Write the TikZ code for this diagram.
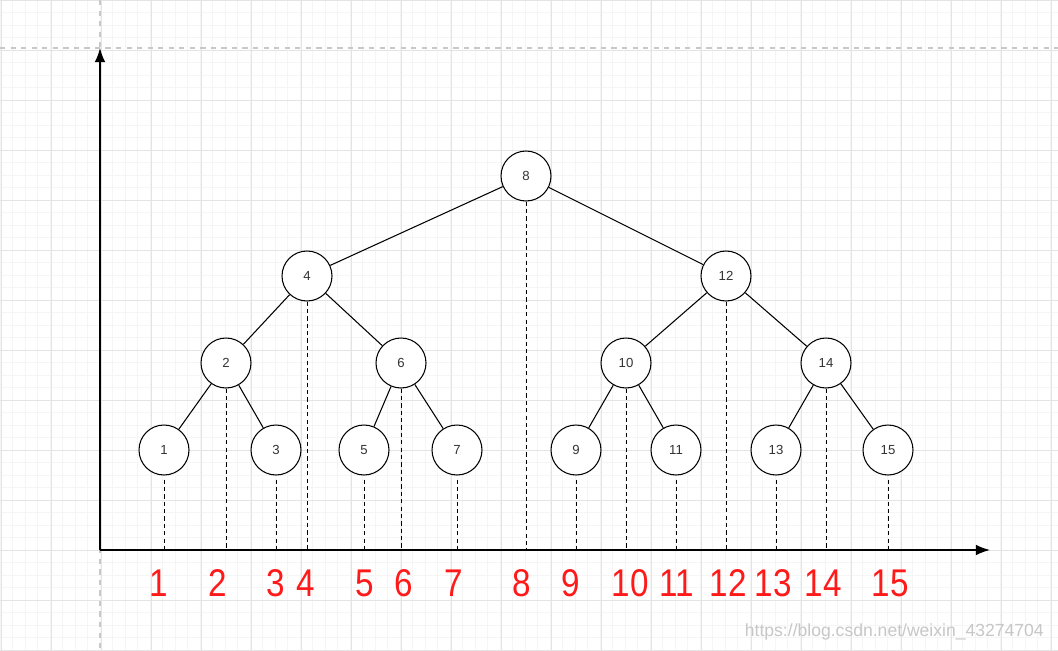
\documentclass[tikz,border=0pt]{standalone}
\usepackage{fontspec}
\setmainfont{Liberation Sans}
\usetikzlibrary{arrows.meta}
\definecolor{gridminor}{HTML}{F5F5F5}
\definecolor{gridmajor}{HTML}{E4E4E4}
\definecolor{guidegray}{HTML}{C8C8C8}
\definecolor{labelred}{HTML}{FF1A1A}
\newcommand{\narrownum}[1]{\scalebox{0.86}[1]{#1}}
\tikzset{
  treenode/.style={draw, circle, minimum size=1cm, inner sep=0pt, line width=0.6pt, fill=white, font=\fontsize{7.5}{9}\selectfont, text=black!80},
  treeedge/.style={line width=0.6pt},
  dropline/.style={line width=0.5pt, dash pattern=on 2.4pt off 1.8pt},
  axisline/.style={line width=0.8pt, -{Latex[length=8pt, width=6pt]}},
  poslabel/.style={text=labelred, font=\fontsize{22}{24}\selectfont, anchor=center, inner sep=0pt}
}
\begin{document}
\begin{tikzpicture}[x=0.02cm, y=-0.02cm]
		%%%%% START %%%%%
		\useasboundingbox (0, 0) rectangle (1058, 650);
		\fill[white] (0, 0) rectangle (1058, 650);
		
		\foreach \gx in {0, 12.5, ..., 1058} {\draw[gridminor, line width=0.4pt] (\gx, 0) -- (\gx, 650);}
		\foreach \gy in {0, 12.5, ..., 650} {\draw[gridminor, line width=0.4pt] (0, \gy) -- (1058, \gy);}
		\foreach \gx in {1, 51, ..., 1058} {\draw[gridmajor, line width=0.5pt] (\gx, 0) -- (\gx, 650);}
		\foreach \gy in {0, 50, ..., 650} {\draw[gridmajor, line width=0.5pt] (0, \gy) -- (1058, \gy);}
		
		\draw[guidegray, dashed, line width=0.6pt] (0, 48) -- (1058, 48);
		\draw[guidegray, dashed, line width=0.6pt] (100, 0) -- (100, 650);
		
		\coordinate (origin) at (100, 550);
		\coordinate (ytip) at (100, 48);
		\coordinate (xtip) at (990, 550);
		
		\node[treenode] (n8) at (526, 176) {8};
		\node[treenode] (n4) at (307, 276) {4};
		\node[treenode] (n12) at (726, 276) {12};
		\node[treenode] (n2) at (226, 363) {2};
		\node[treenode] (n6) at (401, 363) {6};
		\node[treenode] (n10) at (626, 363) {10};
		\node[treenode] (n14) at (826, 363) {14};
		\node[treenode] (n1) at (164, 450) {1};
		\node[treenode] (n3) at (276, 450) {3};
		\node[treenode] (n5) at (364, 450) {5};
		\node[treenode] (n7) at (457, 450) {7};
		\node[treenode] (n9) at (576, 450) {9};
		\node[treenode] (n11) at (676, 450) {11};
		\node[treenode] (n13) at (776, 450) {13};
		\node[treenode] (n15) at (888, 450) {15};
		
		\draw[treeedge] (n8) -- (n4);
		\draw[treeedge] (n8) -- (n12);
		\draw[treeedge] (n4) -- (n2);
		\draw[treeedge] (n4) -- (n6);
		\draw[treeedge] (n12) -- (n10);
		\draw[treeedge] (n12) -- (n14);
		\draw[treeedge] (n2) -- (n1);
		\draw[treeedge] (n2) -- (n3);
		\draw[treeedge] (n6) -- (n5);
		\draw[treeedge] (n6) -- (n7);
		\draw[treeedge] (n10) -- (n9);
		\draw[treeedge] (n10) -- (n11);
		\draw[treeedge] (n14) -- (n13);
		\draw[treeedge] (n14) -- (n15);
		
		\foreach \k in {1, 3, 5, 7, 9, 11, 13, 15} {\draw[dropline] ([yshift=-0.08cm]n\k.south) -- (n\k.south |- origin);}
		\foreach \k in {2, 4, 6, 8, 10, 12, 14} {\draw[dropline] (n\k.south) -- (n\k.south |- origin);}
		
		\draw[axisline] (origin) -- (ytip);
		\draw[axisline] (origin) -- (xtip);
		
		\node[poslabel] (p1) at (159, 583) {\narrownum{1}};
		\node[poslabel] (p2) at (218, 583) {\narrownum{2}};
		\node[poslabel] (p3) at (276, 583) {\narrownum{3}};
		\node[poslabel] (p4) at (306, 583) {\narrownum{4}};
		\node[poslabel] (p5) at (365, 583) {\narrownum{5}};
		\node[poslabel] (p6) at (404, 583) {\narrownum{6}};
		\node[poslabel] (p7) at (454, 583) {\narrownum{7}};
		\node[poslabel] (p8) at (522, 583) {\narrownum{8}};
		\node[poslabel] (p9) at (571, 583) {\narrownum{9}};
		\node[poslabel] (p10) at (630, 583) {\narrownum{10}};
		\node[poslabel] (p11) at (677, 583) {\narrownum{11}};
		\node[poslabel] (p12) at (728, 583) {\narrownum{12}};
		\node[poslabel] (p13) at (773, 583) {\narrownum{13}};
		\node[poslabel] (p14) at (823, 583) {\narrownum{14}};
		\node[poslabel] (p15) at (890, 583) {\narrownum{15}};
		
		\node[text=black!22, font=\fontsize{10}{12}\selectfont, anchor=east] (mark) at (1050, 632) {https://blog.csdn.net/weixin\_43274704};
		%%%%% END %%%%%
\end{tikzpicture}
\end{document}
